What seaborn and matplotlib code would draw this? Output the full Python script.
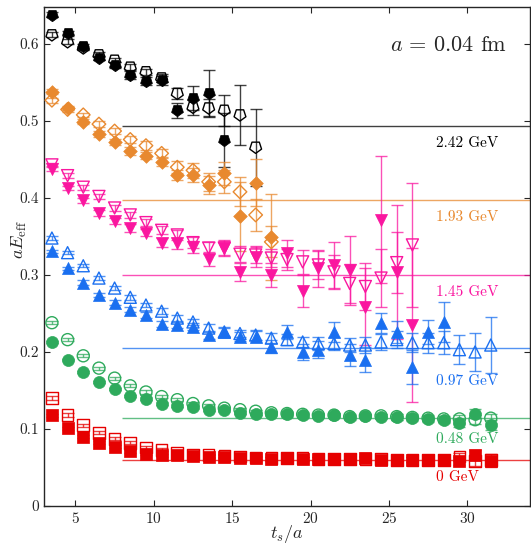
import numpy as np
import pandas as pd
import seaborn as sns
import matplotlib.pyplot as plt
from matplotlib.markers import MarkerStyle
from matplotlib.transforms import Affine2D

# source-sink separation (midpoints)
ts = [3.5, 4.5, 5.5, 6.5, 7.5, 8.5, 9.5, 10.5, 11.5, 12.5, 13.5, 14.5, 15.5, 16.5,
      17.5, 18.5, 19.5, 20.5, 21.5, 22.5, 23.5, 24.5, 25.5, 26.5, 27.5, 28.5, 29.5,
      30.5, 31.5]

momenta = ['2.42 GeV', '1.93 GeV', '1.45 GeV', '0.97 GeV', '0.48 GeV', '0 GeV']
plateaus = [0.493, 0.397, 0.300, 0.205, 0.114, 0.060]
label_y = [0.471, 0.375, 0.278, 0.162, 0.087, 0.038]
colors = ['#000000', '#E8892F', '#FA169F', '#1A6FF0', '#2EAA5C', '#E60000']

# filled symbols
e242_f = [0.638, 0.614, 0.597, 0.582, 0.573, 0.560, 0.552, 0.553, 0.514, 0.530, 0.536, 0.475]
d242_f = [0.003, 0.003, 0.003, 0.003, 0.004, 0.005, 0.005, 0.006, 0.010, 0.016, 0.030, 0.035]
e193_f = [0.538, 0.517, 0.499, 0.483, 0.473, 0.461, 0.455, 0.447, 0.430, 0.430, 0.417, 0.432,
          0.376, 0.420, 0.349]
d193_f = [0.003, 0.003, 0.003, 0.004, 0.004, 0.005, 0.005, 0.006, 0.007, 0.009, 0.012, 0.015,
          0.045, 0.030, 0.056]
e145_f = [0.438, 0.413, 0.397, 0.380, 0.370, 0.361, 0.355, 0.342, 0.341, 0.336, 0.321, 0.335,
          0.304, 0.323, 0.300, 0.328, 0.279, 0.309, 0.313, 0.306, 0.259, 0.372, 0.304, 0.235]
d145_f = [0.003, 0.003, 0.003, 0.004, 0.004, 0.005, 0.005, 0.006, 0.007, 0.008, 0.009, 0.010,
          0.012, 0.013, 0.015, 0.017, 0.021, 0.024, 0.030, 0.045, 0.050, 0.082, 0.087, 0.100]
e097_f = [0.331, 0.309, 0.290, 0.274, 0.264, 0.255, 0.248, 0.236, 0.235, 0.233, 0.222, 0.226,
          0.220, 0.220, 0.207, 0.226, 0.200, 0.203, 0.226, 0.196, 0.190, 0.237, 0.226, 0.181,
          0.226, 0.239]
d097_f = [0.002, 0.002, 0.003, 0.003, 0.003, 0.003, 0.004, 0.004, 0.004, 0.005, 0.005, 0.006,
          0.006, 0.007, 0.008, 0.009, 0.010, 0.011, 0.013, 0.014, 0.016, 0.013, 0.014, 0.022,
          0.016, 0.026]
e048_f = [0.213, 0.190, 0.174, 0.161, 0.152, 0.143, 0.139, 0.133, 0.130, 0.128, 0.125, 0.124,
          0.121, 0.120, 0.119, 0.119, 0.118, 0.117, 0.118, 0.115, 0.117, 0.116, 0.116, 0.114,
          0.113, 0.112, 0.108, 0.120, 0.105]
d048_f = [0.001, 0.001, 0.001, 0.001, 0.001, 0.001, 0.002, 0.002, 0.002, 0.002, 0.002, 0.002,
          0.002, 0.002, 0.002, 0.003, 0.003, 0.003, 0.003, 0.003, 0.003, 0.003, 0.004, 0.004,
          0.004, 0.004, 0.005, 0.006, 0.007]
e000_f = [0.118, 0.101, 0.090, 0.082, 0.077, 0.071, 0.068, 0.066, 0.066, 0.065, 0.064, 0.064,
          0.062, 0.062, 0.061, 0.062, 0.061, 0.061, 0.061, 0.061, 0.062, 0.060, 0.060, 0.060,
          0.060, 0.060, 0.058, 0.066, 0.058]
d000_f = [0.002, 0.002, 0.002, 0.002, 0.002, 0.002, 0.002, 0.002, 0.002, 0.002, 0.002, 0.002,
          0.002, 0.002, 0.002, 0.002, 0.002, 0.002, 0.003, 0.003, 0.003, 0.003, 0.003, 0.003,
          0.003, 0.004, 0.005, 0.006, 0.007]

# open symbols
e242_o = [0.612, 0.603, 0.595, 0.586, 0.579, 0.570, 0.564, 0.556, 0.536, 0.518, 0.517, 0.514,
          0.508, 0.466]
d242_o = [0.003, 0.003, 0.003, 0.003, 0.003, 0.004, 0.004, 0.005, 0.007, 0.010, 0.012, 0.020,
          0.039, 0.050]
e193_o = [0.527, 0.515, 0.508, 0.496, 0.487, 0.476, 0.468, 0.458, 0.440, 0.436, 0.421, 0.421,
          0.408, 0.378, 0.343]
d193_o = [0.003, 0.003, 0.003, 0.004, 0.004, 0.005, 0.006, 0.006, 0.008, 0.010, 0.012, 0.015,
          0.019, 0.021, 0.020]
e145_o = [0.443, 0.429, 0.414, 0.402, 0.387, 0.378, 0.368, 0.358, 0.352, 0.342, 0.335, 0.335,
          0.327, 0.326, 0.322, 0.320, 0.317, 0.313, 0.304, 0.289, 0.285, 0.296, 0.316, 0.339]
d145_o = [0.003, 0.003, 0.003, 0.003, 0.004, 0.004, 0.005, 0.005, 0.006, 0.007, 0.008, 0.009,
          0.010, 0.011, 0.012, 0.014, 0.016, 0.018, 0.022, 0.025, 0.030, 0.038, 0.040, 0.080]
e097_o = [0.348, 0.329, 0.312, 0.296, 0.283, 0.271, 0.261, 0.253, 0.244, 0.239, 0.231, 0.226,
          0.224, 0.222, 0.218, 0.216, 0.213, 0.211, 0.211, 0.209, 0.209, 0.213, 0.216, 0.212,
          0.212, 0.212, 0.203, 0.200, 0.209]
d097_o = [0.002, 0.002, 0.002, 0.003, 0.003, 0.003, 0.003, 0.004, 0.004, 0.004, 0.005, 0.005,
          0.005, 0.006, 0.006, 0.007, 0.007, 0.008, 0.008, 0.009, 0.010, 0.010, 0.011, 0.012,
          0.013, 0.015, 0.019, 0.025, 0.036]
e048_o = [0.238, 0.216, 0.195, 0.179, 0.166, 0.156, 0.148, 0.142, 0.138, 0.133, 0.130, 0.127,
          0.125, 0.123, 0.121, 0.120, 0.119, 0.118, 0.118, 0.116, 0.117, 0.117, 0.116, 0.115,
          0.114, 0.113, 0.113, 0.112, 0.114]
d048_o = [0.002, 0.002, 0.002, 0.002, 0.002, 0.002, 0.002, 0.002, 0.002, 0.002, 0.002, 0.002,
          0.002, 0.002, 0.002, 0.003, 0.003, 0.003, 0.003, 0.003, 0.003, 0.003, 0.004, 0.004,
          0.004, 0.004, 0.005, 0.006, 0.006]
e000_o = [0.140, 0.118, 0.105, 0.095, 0.087, 0.082, 0.076, 0.073, 0.069, 0.067, 0.066, 0.065,
          0.064, 0.063, 0.062, 0.062, 0.062, 0.061, 0.061, 0.061, 0.061, 0.061, 0.060, 0.060,
          0.060, 0.060, 0.064, 0.058, 0.060]
d000_o = [0.003, 0.003, 0.002, 0.002, 0.002, 0.002, 0.002, 0.002, 0.002, 0.002, 0.002, 0.002,
          0.002, 0.002, 0.002, 0.002, 0.002, 0.002, 0.003, 0.003, 0.003, 0.003, 0.003, 0.003,
          0.003, 0.004, 0.005, 0.006, 0.007]

filled = [(e242_f, d242_f), (e193_f, d193_f), (e145_f, d145_f),
          (e097_f, d097_f), (e048_f, d048_f), (e000_f, d000_f)]
opened = [(e242_o, d242_o), (e193_o, d193_o), (e145_o, d145_o),
          (e097_o, d097_o), (e048_o, d048_o), (e000_o, d000_o)]

pent_down = MarkerStyle('p', transform=Affine2D().rotate_deg(180))
markers = [pent_down, 'D', 'v', '^', 'o', 's']
sizes = [80, 48, 75, 75, 75, 70]

sns.set_style('ticks')
plt.rcParams['font.family'] = ['cmr10', 'DejaVu Serif']
plt.rcParams['mathtext.fontset'] = 'cm'
plt.rcParams['axes.formatter.use_mathtext'] = True
plt.rcParams['axes.unicode_minus'] = False

fig = plt.figure(figsize=(5.31, 5.44), dpi=100)
ax = fig.add_axes([0.083, 0.070, 0.915, 0.917])

# plot from lowest momentum up so the high-momentum points sit on top
for i in reversed(range(len(momenta))):
    c = colors[i]
    ax.hlines(plateaus[i], 8, 34, color=c, lw=1.0, alpha=0.75, zorder=1)
    ax.text(28, label_y[i], momenta[i], color=c, fontsize=11, va='center', ha='left')
    for j, (vals, errs) in enumerate([opened[i], filled[i]]):
        df = pd.DataFrame({'t': ts[:len(vals)], 'E': vals, 'err': errs})
        ax.errorbar(df['t'], df['E'], yerr=df['err'], fmt='none', ecolor=c,
                    elinewidth=1.0, capsize=4, capthick=1.0, alpha=0.75, zorder=2 + i)
        if j == 0:
            sns.scatterplot(data=df, x='t', y='E', marker=markers[i], s=sizes[i],
                            facecolor='none', edgecolor=c, linewidth=1.0, color=c,
                            ax=ax, zorder=3 + i)
        else:
            sns.scatterplot(data=df, x='t', y='E', marker=markers[i], s=sizes[i],
                            color=c, edgecolor=c, linewidth=0.5, ax=ax, zorder=3 + i)

ax.text(25.1, 0.599, r'$a\, =\, 0.04$ fm', fontsize=16, va='center', ha='left')

ax.set_xlim(3, 34)
ax.set_ylim(0, 0.648)
ax.set_xticks([5, 10, 15, 20, 25, 30])
ax.set_yticks([0, 0.1, 0.2, 0.3, 0.4, 0.5, 0.6])
ax.set_yticklabels(['0', '0.1', '0.2', '0.3', '0.4', '0.5', '0.6'])
ax.tick_params(direction='in', top=True, right=True, labelsize=11, length=4, width=0.8)
for s in ax.spines.values():
    s.set_linewidth(1.0)
ax.set_xlabel(r'$t_s/a$', fontsize=13, va='center')
ax.xaxis.set_label_coords(0.5, -0.057)
ax.set_ylabel(r'$aE_{\rm eff}$', fontsize=13, va='center')
ax.yaxis.set_label_coords(-0.050, 0.533)

fig.savefig('out.png', dpi=100)
